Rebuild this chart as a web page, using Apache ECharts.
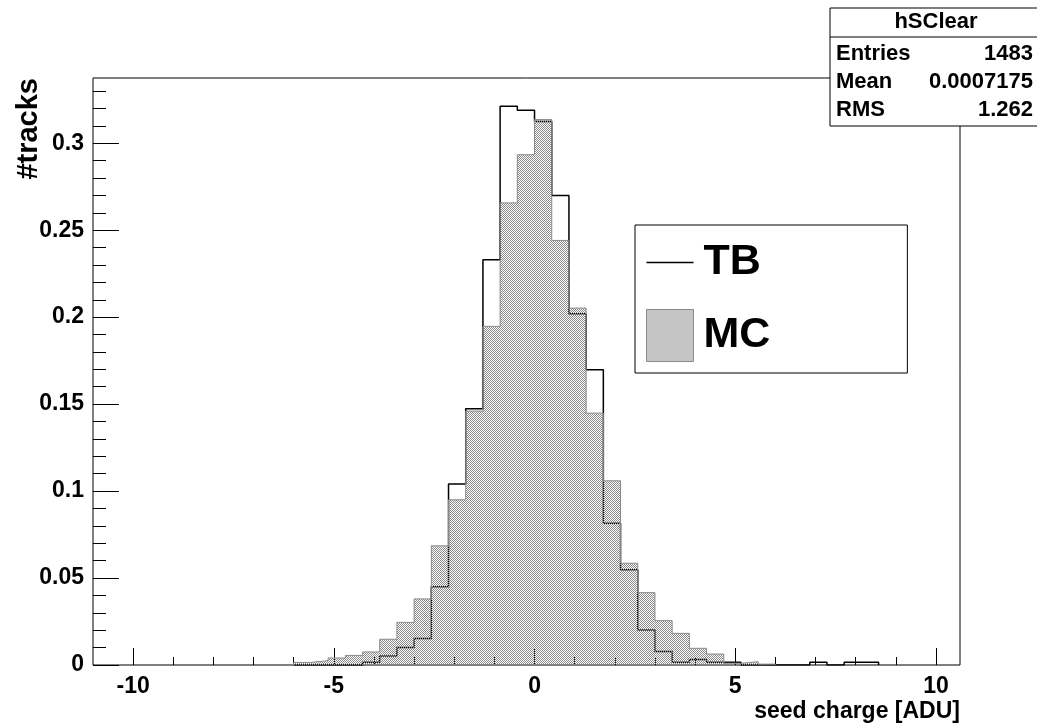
<!DOCTYPE html>
<html>
<head>
<meta charset="utf-8">
<script src="https://cdn.jsdelivr.net/npm/echarts@6/dist/echarts.min.js"></script>
<style>
html, body { margin: 0; padding: 0; background: #fff; }
#chart { width: 1037px; height: 727px; }
</style>
</head>
<body>
<div id="chart"></div>
<script>
// histogram binning (ADU)
var binWidth = 3 / 7
var firstBin = -14

// normalised contents, one per bin starting at firstBin
var tbValues = [0, 0, 0, 0, 0.0016, 0.0052, 0.0100, 0.0153, 0.0450, 0.1040, 0.1473, 0.2330, 0.3212, 0.3190,
  0.3125, 0.2699, 0.2020, 0.1697, 0.0815, 0.0547, 0.0201, 0.0077, 0.0016, 0.0031, 0.0016, 0.0016,
  0, 0, 0, 0, 0.0016, 0, 0.0016, 0.0016]
var mcValues = [0.0015, 0.0025, 0.0040, 0.0055, 0.0075, 0.0148, 0.0245, 0.0380, 0.0685, 0.0950, 0.1460, 0.1947, 0.2657, 0.2934,
  0.3136, 0.2441, 0.2052, 0.1448, 0.1059, 0.0585, 0.0416, 0.0255, 0.0182, 0.0096, 0.0063, 0.0010, 0.0019, 0.0005]

// axis ticks
var majorX = [-10, -5, 0, 5, 10]
var minorX = [-10, -9, -8, -7, -6, -5, -4, -3, -2, -1, 0, 1, 2, 3, 4, 5, 6, 7, 8, 9, 10]
var majorY = [0, 0.05, 0.1, 0.15, 0.2, 0.25, 0.3]
var minorY = [0.01, 0.02, 0.03, 0.04, 0.06, 0.07, 0.08, 0.09, 0.11, 0.12, 0.13, 0.14, 0.16, 0.17, 0.18, 0.19,
  0.21, 0.22, 0.23, 0.24, 0.26, 0.27, 0.28, 0.29, 0.31, 0.32, 0.33]

// stats box
var statsTitle = 'hSClear'
var statsRows = [['Entries', '1483'], ['Mean', '0.0007175'], ['RMS', '1.262']]

var FONT = '"Liberation Sans", Arial, sans-serif'

// histogram -> step points (left edge of each bin)
function stepPoints(values) {
  var pts = [[firstBin * binWidth, 0]]
  values.forEach(function (v, i) {
    pts.push([(firstBin + i) * binWidth, v])
  })
  var end = (firstBin + values.length) * binWidth
  pts.push([end, values[values.length - 1]])
  pts.push([end, 0])
  return pts
}

// grey dotted fill like ROOT
function dotPattern() {
  var c = document.createElement('canvas')
  c.width = 2
  c.height = 2
  var ctx = c.getContext('2d')
  ctx.fillStyle = '#8a8a8a'
  ctx.fillRect(0, 0, 1, 1)
  ctx.fillRect(1, 1, 1, 1)
  return { image: c, repeat: 'repeat' }
}

var pat = dotPattern()
var myChart = echarts.init(document.getElementById('chart'))

var statsGraphics = [
  { type: 'rect', shape: { x: 830, y: 8, width: 212, height: 118 }, style: { fill: '#fff', stroke: '#000', lineWidth: 1 }, z: 100 },
  { type: 'line', shape: { x1: 830, y1: 37, x2: 1037, y2: 37 }, style: { stroke: '#000', lineWidth: 1 }, z: 101 },
  { type: 'text', x: 936, y: 22, z: 101, style: { text: statsTitle, fontSize: 22, fontWeight: 'bold', fontFamily: FONT, fill: '#000', textAlign: 'center', textVerticalAlign: 'middle' } }
]
statsRows.forEach(function (r, i) {
  var y = 54 + i * 28
  statsGraphics.push({ type: 'text', x: 836, y: y, z: 101, style: { text: r[0], fontSize: 22, fontWeight: 'bold', fontFamily: FONT, fill: '#000', textAlign: 'left', textVerticalAlign: 'middle' } })
  statsGraphics.push({ type: 'text', x: 1033, y: y, z: 101, style: { text: r[1], fontSize: 22, fontWeight: 'bold', fontFamily: FONT, fill: '#000', textAlign: 'right', textVerticalAlign: 'middle' } })
})

var option = {
  animation: false,
  backgroundColor: '#fff',
  grid: { left: 93, right: 77, top: 78, bottom: 62, show: true, borderColor: '#000', borderWidth: 1 },
  legend: {
    orient: 'vertical',
    left: 635,
    top: 225,
    itemWidth: 47,
    itemHeight: 52,
    itemGap: 25,
    padding: [16, 137, 11, 11],
    borderColor: '#000',
    borderWidth: 1,
    backgroundColor: '#fff',
    textStyle: { fontSize: 43, fontWeight: 'bold', color: '#000', fontFamily: FONT, padding: [0, 0, 0, 5] },
    data: [
      { name: 'TB', icon: 'path://M0,0L47,0L47,1.5L0,1.5Z', itemStyle: { color: '#000', borderWidth: 0 } },
      { name: 'MC', icon: 'rect', itemStyle: { color: pat, borderColor: '#8a8a8a', borderWidth: 1 } }
    ]
  },
  xAxis: [
    {
      type: 'value', min: -11, max: 10.6, position: 'bottom',
      axisLine: { show: false, onZero: false }, splitLine: { show: false },
      axisTick: { inside: true, length: 17, customValues: majorX, lineStyle: { color: '#000' } },
      axisLabel: { customValues: majorX, fontSize: 23, fontWeight: 'bold', color: '#000', fontFamily: FONT, margin: 10 },
      name: 'seed charge [ADU]', nameLocation: 'end', nameGap: 0,
      nameTextStyle: { align: 'right', verticalAlign: 'top', padding: [35, 0, 0, 0], fontSize: 23, fontWeight: 'bold', color: '#000', fontFamily: FONT }
    },
    {
      type: 'value', min: -11, max: 10.6, position: 'bottom',
      axisLine: { show: false, onZero: false }, splitLine: { show: false }, axisLabel: { show: false },
      axisTick: { inside: true, length: 8, customValues: minorX, lineStyle: { color: '#000' } }
    }
  ],
  yAxis: [
    {
      type: 'value', min: 0, max: 0.3375, position: 'left',
      axisLine: { show: false, onZero: false }, splitLine: { show: false },
      axisTick: { inside: true, length: 26, customValues: majorY, lineStyle: { color: '#000' } },
      axisLabel: { customValues: majorY, fontSize: 23, fontWeight: 'bold', color: '#000', fontFamily: FONT, margin: 9 }
    },
    {
      type: 'value', min: 0, max: 0.3375, position: 'left',
      axisLine: { show: false, onZero: false }, splitLine: { show: false }, axisLabel: { show: false },
      axisTick: { inside: true, length: 13, customValues: minorY, lineStyle: { color: '#000' } }
    }
  ],
  graphic: [
    { type: 'text', x: 29, y: 78, rotation: Math.PI / 2, style: { text: '#tracks', fontSize: 29, fontWeight: 'bold', fontFamily: FONT, fill: '#000', textAlign: 'right', textVerticalAlign: 'middle' } }
  ].concat(statsGraphics),
  series: [
    {
      name: 'TB', type: 'line', step: 'end', symbol: 'none', color: '#000',
      xAxisIndex: 0, yAxisIndex: 0,
      lineStyle: { color: '#000', width: 1.5 },
      data: stepPoints(tbValues), z: 2
    },
    {
      name: 'MC', type: 'line', step: 'end', symbol: 'none', color: '#8a8a8a',
      xAxisIndex: 0, yAxisIndex: 0,
      lineStyle: { color: '#8a8a8a', width: 1 },
      areaStyle: { color: pat, opacity: 1 },
      data: stepPoints(mcValues), z: 3
    }
  ]
}
myChart.setOption(option)
</script>
</body>
</html>
